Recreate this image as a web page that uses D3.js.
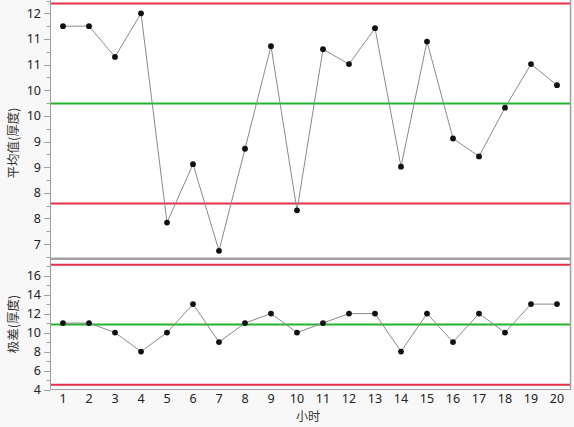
<!DOCTYPE html>
<html>
<head>
<meta charset="utf-8">
<script src="https://cdn.jsdelivr.net/npm/d3@7"></script>
<style>
  html, body { margin: 0; padding: 0; background: #f8f8f8; }
  svg { display: block; font-family: "Noto Sans", "Open Sans", sans-serif; }
  .tick-label { font-size: 12.5px; fill: #222; }
  .axis-title { font-size: 12.5px; fill: #333; font-family: "Noto Sans CJK SC", sans-serif; }
</style>
</head>
<body>
<svg id="chart" width="574" height="427"></svg>
<script>
// X-bar / R control chart data
const hours = [1, 2, 3, 4, 5, 6, 7, 8, 9, 10, 11, 12, 13, 14, 15, 16, 17, 18, 19, 20];
const means = [11.75, 11.75, 11.15, 12.0, 7.92, 9.06, 7.37, 9.36, 11.36, 8.16,
               11.30, 11.01, 11.71, 9.01, 11.45, 9.56, 9.21, 10.16, 11.01, 10.60];
const ranges = [11, 11, 10, 8, 10, 13, 9, 11, 12, 10, 11, 12, 12, 8, 12, 9, 12, 10, 13, 13];

// control limits: [UCL, centre, LCL]
const meanLimits = [12.19, 10.24, 8.29];
const rangeLimits = [17.15, 10.85, 4.5];

// axis ticks
const meanTicks = [12, 11.5, 11, 10.5, 10, 9.5, 9, 8.5, 8, 7.5];
const meanTickLabels = ['12', '11', '11', '10', '10', '9', '9', '8', '8', '7'];
const meanMinor = [12.25, 11.75, 11.25, 10.75, 10.25, 9.75, 9.25, 8.75, 8.25, 7.75, 7.25];
const rangeTicks = [16, 14, 12, 10, 8, 6, 4];
const rangeMinor = [17, 15, 13, 11, 9, 7, 5];

const COLORS = { ucl: '#e62e48', cl: '#22b42c', frame: '#a0a0a0', line: '#8a8a8a', dot: '#111' };

const svg = d3.select('#chart');
const left = 50, right = 570;

const x = d3.scaleLinear().domain([0.5, 20.5]).range([left, right]);
const yMean = d3.scaleLinear().domain([7.22, 12.26]).range([258.5, 0]);
const yRange = d3.scaleLinear().domain([4, 17.7]).range([389.5, 259.5]);

const drawPanel = (y, top, bottom, values, limits, ticks, labels, minor) => {
  const g = svg.append('g');
  g.append('rect')
    .attr('x', left).attr('y', top)
    .attr('width', right - left).attr('height', bottom - top)
    .attr('fill', '#fff');

  // limit lines
  const limColors = [COLORS.ucl, COLORS.cl, COLORS.ucl];
  limits.forEach((v, i) => {
    g.append('line')
      .attr('x1', left).attr('x2', right)
      .attr('y1', y(v)).attr('y2', y(v))
      .attr('stroke', limColors[i]).attr('stroke-width', 2);
  });

  // series line + points
  const line = d3.line().x((d, i) => x(hours[i])).y(d => y(d));
  g.append('path')
    .datum(values)
    .attr('d', line)
    .attr('fill', 'none')
    .attr('stroke', COLORS.line)
    .attr('stroke-width', 1);

  g.selectAll('circle')
    .data(values)
    .join('circle')
    .attr('cx', (d, i) => x(hours[i]))
    .attr('cy', d => y(d))
    .attr('r', 2.9)
    .attr('fill', COLORS.dot);

  // left ticks
  g.selectAll('line.major')
    .data(ticks)
    .join('line')
    .attr('class', 'major')
    .attr('x1', left - 6).attr('x2', left)
    .attr('y1', d => Math.round(y(d)) + 0.5).attr('y2', d => Math.round(y(d)) + 0.5)
    .attr('stroke', COLORS.frame);

  g.selectAll('line.minor')
    .data(minor.filter(d => y(d) >= top && y(d) <= bottom))
    .join('line')
    .attr('class', 'minor')
    .attr('x1', left - 3.5).attr('x2', left)
    .attr('y1', d => Math.round(y(d)) + 0.5).attr('y2', d => Math.round(y(d)) + 0.5)
    .attr('stroke', COLORS.frame);

  g.selectAll('text.tick-label')
    .data(ticks)
    .join('text')
    .attr('class', 'tick-label')
    .attr('x', left - 9)
    .attr('y', d => y(d))
    .attr('dy', '0.35em')
    .attr('text-anchor', 'end')
    .text((d, i) => labels[i]);
};

drawPanel(yMean, 0, 258, means, meanLimits, meanTicks, meanTickLabels, meanMinor);
drawPanel(yRange, 260, 389.5, ranges, rangeLimits, rangeTicks, rangeTicks.map(String), rangeMinor);

// frame lines
svg.append('rect')
  .attr('x', left).attr('y', 257.5)
  .attr('width', right - left).attr('height', 2.5)
  .attr('fill', COLORS.frame);
svg.append('line')
  .attr('x1', left + 0.5).attr('x2', left + 0.5)
  .attr('y1', 0).attr('y2', 390)
  .attr('stroke', COLORS.frame);
svg.append('line')
  .attr('x1', right + 0.5).attr('x2', right + 0.5)
  .attr('y1', 0).attr('y2', 390)
  .attr('stroke', COLORS.frame).attr('stroke-width', 1.5);
svg.append('line')
  .attr('x1', left).attr('x2', right + 1)
  .attr('y1', 389.5).attr('y2', 389.5)
  .attr('stroke', COLORS.frame);

// x tick labels
svg.selectAll('text.x-label')
  .data(hours)
  .join('text')
  .attr('class', 'tick-label x-label')
  .attr('x', d => x(d))
  .attr('y', 402.5)
  .attr('text-anchor', 'middle')
  .text(d => d);

// axis titles
svg.append('text')
  .attr('class', 'axis-title')
  .attr('x', 308).attr('y', 421)
  .attr('text-anchor', 'middle')
  .style('font-size', '12px')
  .text('小时');

svg.append('text')
  .attr('class', 'axis-title')
  .attr('transform', 'translate(18,143) rotate(-90)')
  .attr('text-anchor', 'middle')
  .text('平均值(厚度)');

svg.append('text')
  .attr('class', 'axis-title')
  .attr('transform', 'translate(18,324) rotate(-90)')
  .attr('text-anchor', 'middle')
  .text('极差(厚度)');
</script>
</body>
</html>
